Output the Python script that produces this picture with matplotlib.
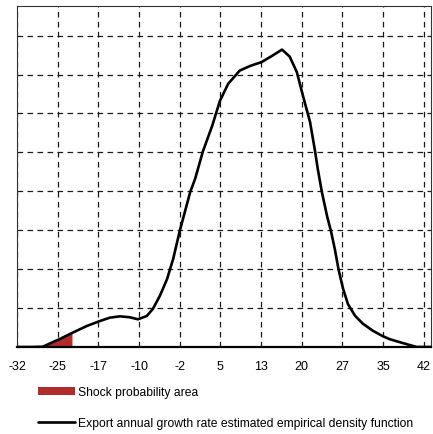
import numpy as np
import matplotlib
matplotlib.use("Agg")
import matplotlib.pyplot as plt

# growth rate (%) and estimated density
growth = [-32.0, -29.1, -27.3, -24.2, -22.0, -19.3, -16.9, -15.1, -13.3, -11.5,
          -10.0, -8.4, -7.3, -6.0, -4.7, -3.6, -2.4, -0.5, 0.4, 1.8,
          3.5, 4.9, 6.4, 8.5, 10.4, 12.5, 14.4, 16.2, 17.6, 18.9,
          20.0, 21.3, 22.2, 22.7, 23.45, 24.4, 25.1, 25.8, 26.5, 27.3,
          28.2, 29.5, 30.9, 32.7, 34.5, 35.8, 38.2, 40.7, 43.3]
density = [0.0, 0.0, 0.00004, 0.00103, 0.0018, 0.0027, 0.00334, 0.00377, 0.00394, 0.00382,
           0.00356, 0.00398, 0.00488, 0.00659, 0.00874, 0.0113, 0.0149, 0.0199, 0.0216, 0.0251,
           0.0284, 0.0316, 0.0338, 0.0355, 0.0361, 0.0366, 0.0374, 0.0382, 0.0373, 0.0353,
           0.0323, 0.0289, 0.0252, 0.0229, 0.0199, 0.0168, 0.0149, 0.0126, 0.0099, 0.0075,
           0.0055, 0.0040, 0.0030, 0.0021, 0.0014, 0.0010, 0.0005, 0.0, 0.0]
shock_limit = -22.0

tick_labels = ["-32", "-25", "-17", "-10", "-2", "5", "13", "20", "27", "35", "42"]
tick_pos = np.linspace(-32, 42, len(tick_labels))
y_grid = [0.005 * k for k in range(1, 9)]

line_label = "Export annual growth rate estimated empirical density function"
area_label = "Shock probability area"

plt.rcParams["font.family"] = ["Liberation Sans", "DejaVu Sans"]

fig = plt.figure(figsize=(4.33, 4.35), dpi=100)
ax = fig.add_axes([17 / 433, 1 - 348 / 435, (431 - 17) / 433, (348 - 7) / 435])

x = np.array(growth)
y = np.array(density)
mask = x <= shock_limit
area = ax.fill_between(x[mask], 0, y[mask], color="#b02c2c", lw=0, zorder=2)
line, = ax.plot(x, y, color="black", lw=1.9, zorder=3,
                solid_capstyle="round", solid_joinstyle="round")

ax.set_xlim(-32, 43.3)
ax.set_ylim(0, 0.0438)
ax.set_xticks(tick_pos)
ax.set_xticklabels(tick_labels, fontsize=9)
ax.set_yticks(y_grid)
ax.set_yticklabels([])
ax.tick_params(axis="both", length=0)
ax.tick_params(axis="x", pad=9)
ax.grid(True, color="#1a1a1a", lw=0.9, linestyle=(0, (4.5, 3.5)), zorder=1)

for side in ["top", "right", "left"]:
    ax.spines[side].set_color("#333333")
    ax.spines[side].set_linewidth(0.8)
ax.spines["bottom"].set_linewidth(1.6)

fig.legend([area, line], [area_label, line_label],
           loc="center left", bbox_to_anchor=(38 / 433, 1 - 408.5 / 435),
           frameon=False, fontsize=8.7, handlelength=3.05, handletextpad=0.25,
           labelspacing=1.55, borderpad=0, borderaxespad=0)

fig.savefig("out.png", dpi=100)
